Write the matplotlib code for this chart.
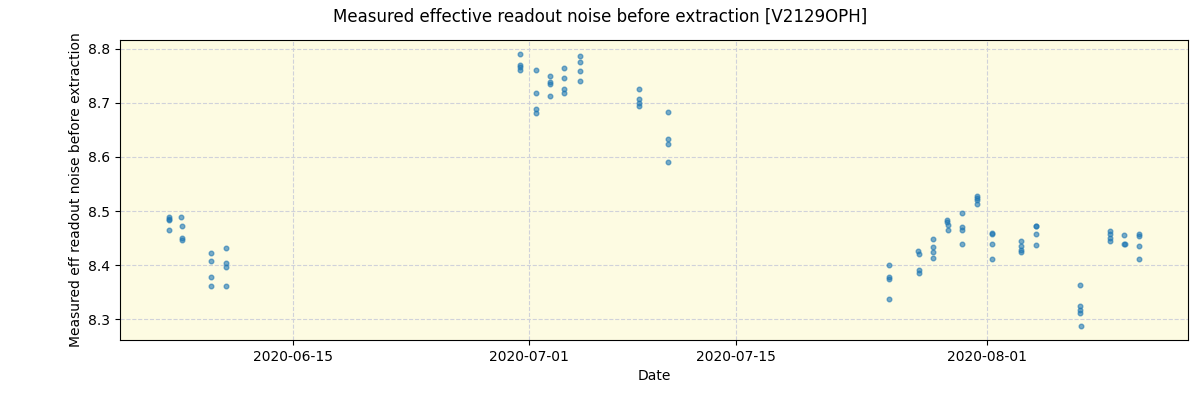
import pandas as pd
import matplotlib
matplotlib.use("Agg")
import matplotlib.pyplot as plt
import matplotlib.dates as mdates

dates = [
    "2020-06-06 13:00", "2020-06-06 13:10", "2020-06-06 13:20", "2020-06-06 13:30",
    "2020-06-07 10:00", "2020-06-07 10:10", "2020-06-07 10:20", "2020-06-07 10:30",
    "2020-06-09 10:00", "2020-06-09 10:10", "2020-06-09 10:20", "2020-06-09 10:30",
    "2020-06-10 10:00", "2020-06-10 10:10", "2020-06-10 10:20", "2020-06-10 10:30",
    "2020-06-30 09:00", "2020-06-30 09:10", "2020-06-30 09:20", "2020-06-30 09:30",
    "2020-07-01 10:00", "2020-07-01 10:10", "2020-07-01 10:20", "2020-07-01 10:30",
    "2020-07-02 09:00", "2020-07-02 09:10", "2020-07-02 09:20", "2020-07-02 09:30",
    "2020-07-03 08:00", "2020-07-03 08:10", "2020-07-03 08:20", "2020-07-03 08:30",
    "2020-07-04 10:00", "2020-07-04 10:10", "2020-07-04 10:20", "2020-07-04 10:30",
    "2020-07-08 10:00", "2020-07-08 10:10", "2020-07-08 10:20", "2020-07-08 10:30",
    "2020-07-10 09:00", "2020-07-10 09:10", "2020-07-10 09:20", "2020-07-10 09:30",
    "2020-07-25 09:00", "2020-07-25 09:10", "2020-07-25 09:20", "2020-07-25 09:30",
    "2020-07-27 09:00", "2020-07-27 09:10", "2020-07-27 09:20", "2020-07-27 09:30",
    "2020-07-28 08:00", "2020-07-28 08:10", "2020-07-28 08:20", "2020-07-28 08:30",
    "2020-07-29 08:00", "2020-07-29 08:10", "2020-07-29 08:20", "2020-07-29 08:30",
    "2020-07-30 08:00", "2020-07-30 08:10", "2020-07-30 08:20", "2020-07-30 08:30",
    "2020-07-31 08:00", "2020-07-31 08:10", "2020-07-31 08:20", "2020-07-31 08:30",
    "2020-08-01 08:00", "2020-08-01 08:10", "2020-08-01 08:20", "2020-08-01 08:30",
    "2020-08-03 08:00", "2020-08-03 08:10", "2020-08-03 08:20", "2020-08-03 08:30",
    "2020-08-04 08:00", "2020-08-04 08:10", "2020-08-04 08:20", "2020-08-04 08:30",
    "2020-08-07 08:00", "2020-08-07 08:10", "2020-08-07 08:20", "2020-08-07 08:30", "2020-08-07 08:40",
    "2020-08-09 08:00", "2020-08-09 08:10", "2020-08-09 08:20", "2020-08-09 08:30",
    "2020-08-10 08:00", "2020-08-10 08:10", "2020-08-10 08:20",
    "2020-08-11 08:00", "2020-08-11 08:10", "2020-08-11 08:20", "2020-08-11 08:30",
]
noise = [
    8.490, 8.486, 8.483, 8.466,
    8.489, 8.472, 8.450, 8.446,
    8.422, 8.407, 8.378, 8.361,
    8.431, 8.404, 8.396, 8.361,
    8.791, 8.770, 8.767, 8.761,
    8.761, 8.718, 8.689, 8.681,
    8.750, 8.739, 8.735, 8.713,
    8.764, 8.746, 8.725, 8.718,
    8.786, 8.775, 8.759, 8.740,
    8.725, 8.707, 8.699, 8.694,
    8.683, 8.633, 8.624, 8.590,
    8.401, 8.378, 8.375, 8.337,
    8.426, 8.420, 8.392, 8.385,
    8.449, 8.433, 8.424, 8.414,
    8.483, 8.479, 8.474, 8.466,
    8.496, 8.470, 8.466, 8.440,
    8.528, 8.524, 8.520, 8.514,
    8.459, 8.457, 8.440, 8.411,
    8.444, 8.436, 8.429, 8.424,
    8.473, 8.472, 8.457, 8.438,
    8.364, 8.325, 8.317, 8.311, 8.287,
    8.464, 8.457, 8.451, 8.444,
    8.455, 8.439, 8.439,
    8.458, 8.454, 8.435, 8.411,
]

df = pd.DataFrame({"date": pd.to_datetime(dates), "noise": noise})

fig, ax = plt.subplots(figsize=(12, 4), dpi=100)
fig.subplots_adjust(left=0.1, right=0.99, top=0.9, bottom=0.15)
ax.set_facecolor("#fdfbe2")
ax.scatter(df["date"], df["noise"], s=11, color="tab:blue", alpha=0.6, zorder=3)
ax.grid(True, linestyle="--", color="#d0d2da", linewidth=0.8)
ax.set_axisbelow(True)

ax.xaxis.set_major_locator(mdates.DayLocator(bymonthday=[1, 15]))
ax.xaxis.set_major_formatter(mdates.DateFormatter("%Y-%m-%d"))

ax.set_xlabel("Date")
ax.set_ylabel("Measured eff readout noise before extraction")
fig.suptitle("Measured effective readout noise before extraction [V2129OPH]")

plt.savefig("out.png")
